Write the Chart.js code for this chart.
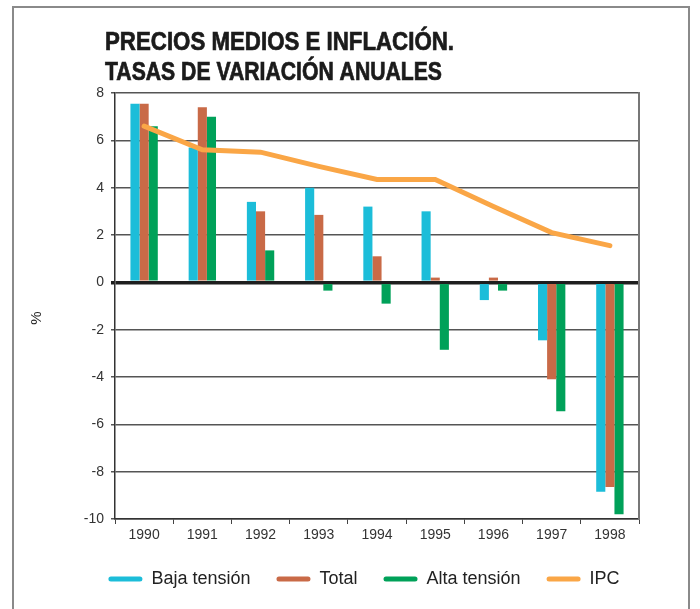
<!DOCTYPE html>
<html>
<head>
<meta charset="utf-8">
<script src="https://cdn.jsdelivr.net/npm/chart.js@4"></script>
<style>
  html, body { margin: 0; padding: 0; background: #fff; }
  #wrap { width: 700px; height: 609px; }
</style>
</head>
<body>
<div id="wrap"><canvas id="myChart" width="700" height="609"></canvas></div>
<script>
var years = ['1990', '1991', '1992', '1993', '1994', '1995', '1996', '1997', '1998'];
var bajaTension = [7.55, 5.7, 3.4, 4.0, 3.2, 3.0, -0.75, -2.45, -8.85];
var total = [7.55, 7.4, 3.0, 2.85, 1.1, 0.2, 0.2, -4.1, -8.65];
var altaTension = [6.6, 7.0, 1.35, -0.35, -0.9, -2.85, -0.35, -5.45, -9.8];
var ipc = [6.6, 5.6, 5.5, 4.9, 4.35, 4.35, 3.2, 2.1, 1.55];
var titleLines = ['PRECIOS MEDIOS E INFLACIÓN.', 'TASAS DE VARIACIÓN ANUALES'];
var unitLabel = '%';

var sans = '"Liberation Sans", Arial, sans-serif';

// outer frame, condensed heading and the unit label
var decor = {
    id: 'decor',
    beforeDraw: function(chart) {
        var c = chart.ctx;
        c.save();
        c.strokeStyle = '#8a8a8a';
        c.lineWidth = 2;
        c.beginPath();
        c.moveTo(13, 609);
        c.lineTo(13, 7);
        c.lineTo(689, 7);
        c.lineTo(689, 609);
        c.stroke();
        c.restore();
    },
    afterDraw: function(chart) {
        var c = chart.ctx;
        var heading = [[titleLines[0], 50, 349], [titleLines[1], 80, 337]];
        c.font = 'bold 25px ' + sans;
        c.textBaseline = 'alphabetic';
        c.fillStyle = '#1b1b1b';
        c.strokeStyle = '#1b1b1b';
        c.lineWidth = 0.7;
        heading.forEach(function(h) {
            // squeeze the bold face so it reads like a condensed type
            var sx = h[2] / c.measureText(h[0]).width;
            c.save();
            c.translate(105, h[1]);
            c.scale(sx, 1);
            c.fillText(h[0], 0, 0);
            c.strokeText(h[0], 0, 0);
            c.restore();
        });

        c.save();
        c.fillStyle = '#222';
        c.font = '15px ' + sans;
        c.textAlign = 'center';
        c.textBaseline = 'middle';
        c.translate(37, 318);
        c.rotate(-Math.PI / 2);
        c.fillText(unitLabel, 0, 0);
        c.restore();
    }
};

var ctx = document.getElementById('myChart').getContext('2d');
var myChart = new Chart(ctx, {
    type: 'bar',
    data: {
        labels: years,
        datasets: [{
            label: 'Baja tensión',
            data: bajaTension,
            backgroundColor: '#1cbdd9',
            borderColor: '#1cbdd9',
            order: 2
        }, {
            label: 'Total',
            data: total,
            backgroundColor: '#c96a47',
            borderColor: '#c96a47',
            order: 2
        }, {
            label: 'Alta tensión',
            data: altaTension,
            backgroundColor: '#00a159',
            borderColor: '#00a159',
            order: 2
        }, {
            type: 'line',
            label: 'IPC',
            data: ipc,
            borderColor: '#faa646',
            backgroundColor: '#faa646',
            borderWidth: 5,
            borderCapStyle: 'round',
            pointRadius: 0,
            tension: 0,
            order: 1
        }]
    },
    options: {
        responsive: false,
        animation: false,
        layout: { padding: { left: 28, top: 93, right: 0, bottom: 11 } },
        datasets: {
            bar: { categoryPercentage: 0.47, barPercentage: 1, borderWidth: 0 }
        },
        plugins: {
            legend: {
                position: 'bottom',
                labels: {
                    boxWidth: 34,
                    boxHeight: 5,
                    padding: 26,
                    useBorderRadius: true,
                    borderRadius: 2.5,
                    color: '#222',
                    font: { family: sans, size: 18 },
                    generateLabels: function(chart) {
                        var items = Chart.defaults.plugins.legend.labels.generateLabels(chart);
                        items.forEach(function(it) {
                            var ds = chart.data.datasets[it.datasetIndex];
                            it.fillStyle = ds.borderColor;
                            it.strokeStyle = ds.borderColor;
                            it.lineWidth = 0;
                        });
                        return items.sort(function(a, b) { return a.datasetIndex - b.datasetIndex; });
                    }
                }
            },
            tooltip: { enabled: false }
        },
        scales: {
            x: {
                afterFit: function(s) { s.height = 25; },
                grid: { drawOnChartArea: false, drawTicks: true, tickLength: 5, color: '#444', offset: true },
                border: { color: '#333', width: 1.5 },
                ticks: { padding: 3, color: '#333', font: { family: sans, size: 14 } }
            },
            y: {
                min: -10,
                max: 8,
                afterFit: function(s) { s.width = 87; },
                ticks: { stepSize: 2, padding: 7, color: '#333', font: { family: sans, size: 14 } },
                grid: {
                    tickLength: 4,
                    color: function(c) { return c.tick && c.tick.value === 0 ? '#1e1e1e' : '#555'; },
                    lineWidth: function(c) { return c.tick && c.tick.value === 0 ? 3.5 : 1.5; }
                },
                border: { color: '#333', width: 1.5 }
            },
            yRight: {
                position: 'right',
                min: -10,
                max: 8,
                afterFit: function(s) { s.width = 61; },
                ticks: { display: false },
                grid: { drawOnChartArea: false, drawTicks: false },
                border: { color: '#777', width: 2 }
            }
        }
    },
    plugins: [decor]
});
</script>
</body>
</html>
